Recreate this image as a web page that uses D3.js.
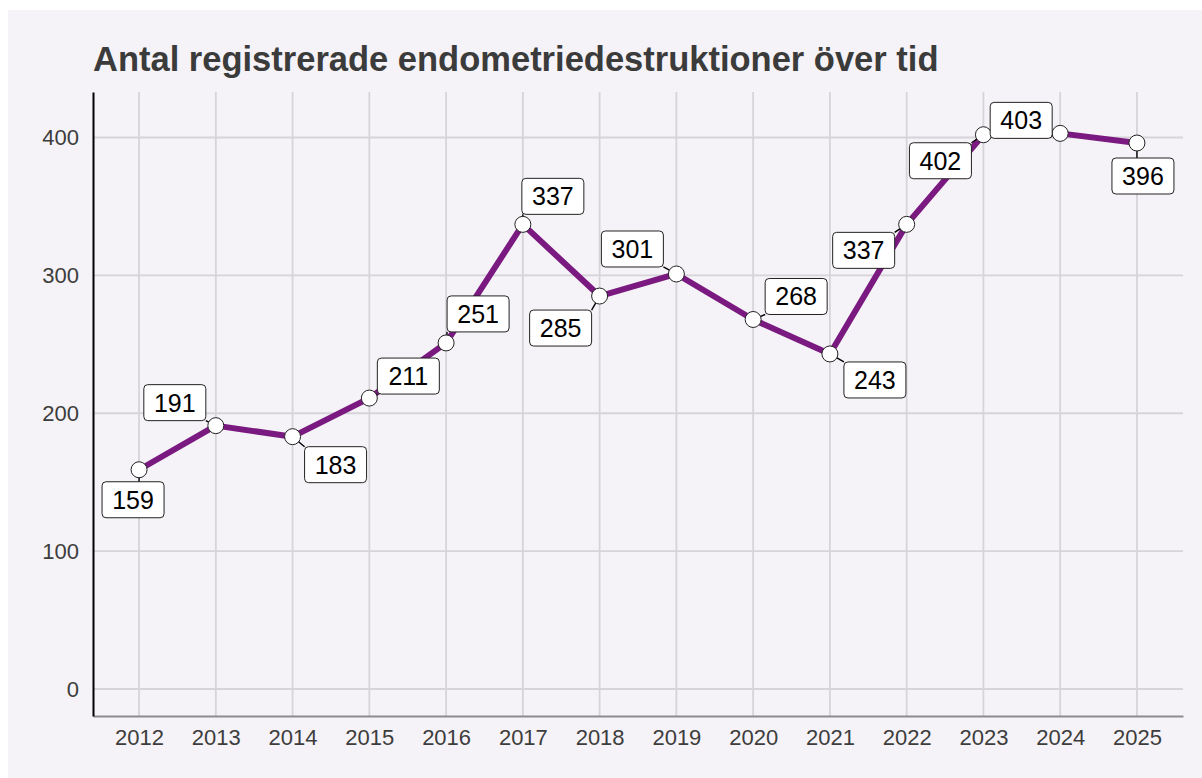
<!DOCTYPE html>
<html>
<head>
<meta charset="utf-8">
<script src="https://cdn.jsdelivr.net/npm/d3@7"></script>
<style>
  body { margin: 0; background: #fff; }
  text { font-family: "Liberation Sans", Arial, sans-serif; }
</style>
</head>
<body>
<div id="chart"></div>
<script>
// data
var years  = [2012, 2013, 2014, 2015, 2016, 2017, 2018, 2019, 2020, 2021, 2022, 2023, 2024, 2025];
var counts = [159, 191, 183, 211, 251, 337, 285, 301, 268, 243, 337, 402, 403, 396];
var yTicks = [0, 100, 200, 300, 400];

// where each label box sits relative to its point (repelled by hand)
var labelDx = [-6, -41, 43, 39, 32, 30, -39, -44, 43, 45, -43, -43, -39, 6];
var labelDy = [30, -23, 28, -22, -29, -28, 32, -25, -23, 26, 26, 26, -13, 33];

var W = 1202, H = 778;
var mLeft = 93, mRight = 1183, mTop = 92, mBottom = 716;

var svg = d3.select('#chart')
  .append('svg')
    .attr('width', W)
    .attr('height', H);

svg.append('rect')
  .attr('x', 8).attr('y', 10)
  .attr('width', W - 8).attr('height', H - 10)
  .attr('fill', '#f5f3f7');

var x = d3.scaleLinear().domain([2011.4, 2025.6]).range([mLeft, mRight]);
var y = d3.scaleLinear().domain([-19.6, 433]).range([mBottom, mTop]);

var pts = years.map(function(yr, i) { return { year: yr, value: counts[i], i: i }; });

// grid
svg.append('g')
  .selectAll('line')
  .data(years)
  .enter().append('line')
    .attr('x1', function(d) { return x(d); })
    .attr('x2', function(d) { return x(d); })
    .attr('y1', mTop).attr('y2', mBottom)
    .attr('stroke', '#d6d4d8').attr('stroke-width', 1.8);

svg.append('g')
  .selectAll('line')
  .data(yTicks)
  .enter().append('line')
    .attr('x1', mLeft).attr('x2', mRight)
    .attr('y1', function(d) { return y(d); })
    .attr('y2', function(d) { return y(d); })
    .attr('stroke', '#d6d4d8').attr('stroke-width', 1.8);

// axes
var xAxis = svg.append('g')
  .attr('transform', 'translate(0,' + mBottom + ')')
  .call(d3.axisBottom(x).tickValues(years).tickFormat(d3.format('d')).tickSize(0).tickPadding(13));
xAxis.select('.domain').attr('stroke', '#8c8c8c').attr('stroke-width', 2);
xAxis.selectAll('text').attr('font-size', 22).attr('fill', '#3d3d3d');

var yAxis = svg.append('g')
  .attr('transform', 'translate(' + mLeft + ',0)')
  .call(d3.axisLeft(y).tickValues(yTicks).tickSize(0).tickPadding(14));
yAxis.select('.domain').attr('stroke', '#000').attr('stroke-width', 2);
yAxis.selectAll('text').attr('font-size', 22).attr('fill', '#3d3d3d');

// line
var line = d3.line()
  .x(function(d) { return x(d.year); })
  .y(function(d) { return y(d.value); });

svg.append('path')
  .datum(pts)
  .attr('d', line)
  .attr('fill', 'none')
  .attr('stroke', '#7a1a80')
  .attr('stroke-width', 6)
  .attr('stroke-linejoin', 'round');

// labels
var bw = 62, bh = 36;
var labels = svg.append('g');

pts.forEach(function(d) {
  var px = x(d.year), py = y(d.value);
  var cx = px + labelDx[d.i], cy = py + labelDy[d.i];
  // segment from point to box edge
  var ex = Math.max(cx - bw / 2, Math.min(px, cx + bw / 2));
  var ey = Math.max(cy - bh / 2, Math.min(py, cy + bh / 2));
  labels.append('line')
    .attr('x1', px).attr('y1', py)
    .attr('x2', ex).attr('y2', ey)
    .attr('stroke', '#000').attr('stroke-width', 1.4);
});

// points
svg.append('g')
  .selectAll('circle')
  .data(pts)
  .enter().append('circle')
    .attr('cx', function(d) { return x(d.year); })
    .attr('cy', function(d) { return y(d.value); })
    .attr('r', 8)
    .attr('fill', '#fff')
    .attr('stroke', '#222')
    .attr('stroke-width', 1);

var boxes = svg.append('g')
  .selectAll('g')
  .data(pts)
  .enter().append('g')
    .attr('transform', function(d) {
      return 'translate(' + (x(d.year) + labelDx[d.i]) + ',' + (y(d.value) + labelDy[d.i]) + ')';
    });

boxes.append('rect')
  .attr('x', -bw / 2).attr('y', -bh / 2)
  .attr('width', bw).attr('height', bh)
  .attr('rx', 4)
  .attr('fill', '#fff')
  .attr('stroke', '#222')
  .attr('stroke-width', 1);

boxes.append('text')
  .text(function(d) { return d.value; })
  .attr('text-anchor', 'middle')
  .attr('dy', '0.36em')
  .attr('font-size', 25)
  .attr('fill', '#000');

// title
svg.append('text')
  .attr('x', 93).attr('y', 71)
  .attr('font-size', 34.5)
  .attr('font-weight', 'bold')
  .attr('fill', '#3b3b3b')
  .text('Antal registrerade endometriedestruktioner över tid');
</script>
</body>
</html>
